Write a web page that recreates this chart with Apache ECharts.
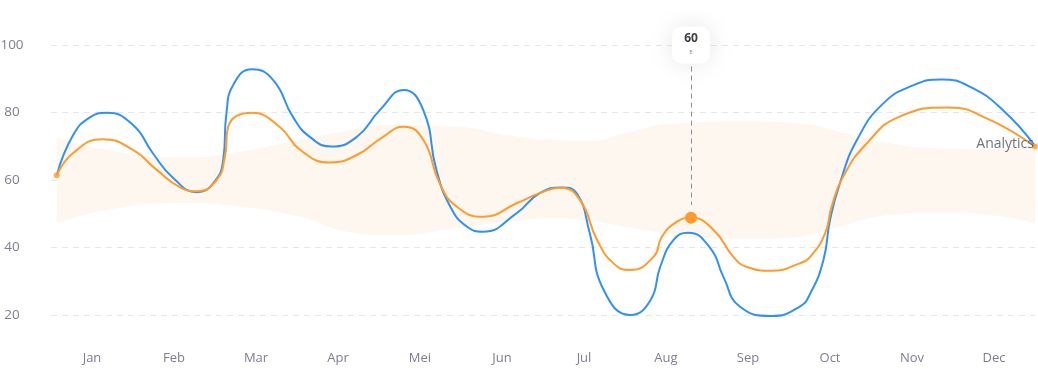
<!DOCTYPE html>
<html>
<head>
<meta charset="utf-8">
<script src="https://cdn.jsdelivr.net/npm/echarts@6/dist/echarts.min.js"></script>
<style>
html,body{margin:0;padding:0;background:#fff;}
#chart{width:1038px;height:369px;}
</style>
</head>
<body>
<div id="chart"></div>
<script>
// ---- data ----
var months = ['Jan','Feb','Mar','Apr','Mei','Jun','Jul','Aug','Sep','Oct','Nov','Dec'];
var yTicks = [20, 40, 60, 80, 100];

// positions along the year, in months (0 = start of Jan, 12 = end of Dec)
var blueX = [0.07,0.27,0.47,0.68,1.0,1.24,1.49,1.78,1.98,2.1,2.14,2.22,2.45,2.71,2.95,3.16,3.42,3.73,4.01,4.3,4.54,4.7,4.87,5.07,5.27,5.68,5.96,6.23,6.41,6.57,6.74,7.07,7.31,7.43,7.59,7.77,8.04,8.2,8.4,8.79,9.13,9.26,9.42,9.5,9.62,9.83,10.15,10.52,10.86,11.21,11.61,12.0];
var blueY = [61.4,73.3,78.5,79.9,76.3,68.0,60.6,56.4,59.1,65.9,79.9,88.1,92.8,89.6,78.7,72.7,69.9,72.8,80.7,86.7,80.7,63.0,52.1,46.2,44.7,50.2,56.1,57.8,56.1,44.3,27.4,20.0,24.4,34.3,42.2,44.4,39.8,31.3,22.5,19.7,22.5,26.4,36.3,48.1,59.0,71.9,82.7,88.1,89.8,87.6,80.7,70.1];

var orangeX = [0.07,0.27,0.63,1.0,1.29,1.57,1.78,2.02,2.12,2.16,2.45,2.79,3.04,3.4,3.73,4.05,4.3,4.54,4.74,4.95,5.27,5.68,5.96,6.21,6.45,6.66,6.86,7.06,7.35,7.45,7.63,7.805,8.08,8.32,8.48,8.79,9.13,9.26,9.44,9.52,9.66,9.95,10.35,10.94,11.45,12.0];
var orangeY = [61.4,68.0,72.1,68.9,63.0,57.9,56.7,60.0,66.8,75.7,79.9,75.7,68.9,65.2,67.4,72.8,75.8,71.9,59.0,52.1,49.1,53.1,56.1,57.7,54.1,42.2,35.3,33.3,37.3,43.2,47.6,48.8,45.2,37.3,34.3,33.1,35.3,37.3,44.2,52.1,61.0,70.9,78.8,81.5,77.8,69.9];

var bandX    = [0.07,0.68,1.57,2.3,3.04,3.52,4.13,4.95,5.56,6.09,6.57,6.98,7.59,8.0,8.4,8.8,9.13,9.62,10.23,10.84,11.45,12.0];
var bandLow  = [47.2,51.1,53.1,52.1,49.1,45.2,43.6,45.8,47.6,48.7,47.9,46.2,43.8,42.7,42.6,42.7,43.2,46.2,49.6,50.3,49.6,47.2];
var bandHigh = [72.7,68.9,66.7,68.4,71.9,74.2,76.3,75.8,73.3,71.9,71.6,73.8,76.8,77.2,77.3,77.2,76.8,74.3,70.9,69.4,69.1,69.9];

var highlightIndex = 31;       // point of orangeX/orangeY that is highlighted
var tipValue = '60';
var tipSub = 'E';
var tipY = 100;                 // value level of the tooltip box
var guideTop = 93.6, guideBottom = 52.6;
var seriesName = 'Analytics';

// ---- build ----
function zip(a, b) { return a.map(function (v, i) { return [v, b[i]]; }); }
var bandDiff = bandHigh.map(function (v, i) { return +(v - bandLow[i]).toFixed(2); });
var hx = orangeX[highlightIndex], hy = orangeY[highlightIndex];
var n = orangeX.length - 1;
var SM = 0.5;

var blue = '#3190f4', orange = '#ff9b2c';
var chart = echarts.init(document.getElementById('chart'), null, {renderer: 'canvas'});
chart.setOption({
  animation: false,
  backgroundColor: '#ffffff',
  grid: {left: 51, right: 3, top: 45, bottom: 54, containLabel: false, outerBoundsMode: 'none'},
  xAxis: [
    {
      type: 'category', data: months, boundaryGap: true,
      axisLine: {show: false}, axisTick: {show: false}, splitLine: {show: false},
      axisLabel: {margin: 37, color: '#7f7c93', fontSize: 13, fontFamily: 'Open Sans'}
    },
    {type: 'value', min: 0, max: 12, show: false}
  ],
  yAxis: {
    type: 'value', min: yTicks[0], max: yTicks[yTicks.length - 1], interval: 20,
    axisLine: {show: false}, axisTick: {show: false},
    axisLabel: {margin: 39, align: 'center', color: '#7f7c93', fontSize: 13.5, fontFamily: 'Open Sans'},
    splitLine: {show: true, lineStyle: {color: '#e6e6ec', width: 1, type: [6, 5]}}
  },
  series: [
    {
      type: 'line', xAxisIndex: 1, stack: 'band', data: zip(bandLow, bandX), encode: {x: 1, y: 0},
      smooth: SM, showSymbol: false, lineStyle: {opacity: 0}, silent: true, z: 1
    },
    {
      type: 'line', xAxisIndex: 1, stack: 'band', data: zip(bandDiff, bandX), encode: {x: 1, y: 0},
      smooth: SM, showSymbol: false, lineStyle: {opacity: 0}, silent: true, z: 1,
      areaStyle: {color: '#fdf7f0', opacity: 1}
    },
    {
      type: 'line', xAxisIndex: 1, data: zip(blueX, blueY), clip: false,
      smooth: SM, showSymbol: false, lineStyle: {color: blue, width: 2}, z: 3
    },
    {
      name: seriesName,
      type: 'line', xAxisIndex: 1, data: zip(orangeX, orangeY), clip: false,
      smooth: SM, showSymbol: false, lineStyle: {color: orange, width: 2}, z: 4,
      markLine: {
        silent: true, symbol: 'none', animation: false,
        lineStyle: {color: '#8e8e96', width: 1, type: [5, 4]},
        label: {show: false},
        data: [[{coord: [hx, guideTop]}, {coord: [hx, guideBottom]}]]
      },
      markPoint: {
        silent: true, animation: false,
        data: [
          {
            coord: [hx, hy], symbol: 'circle', symbolSize: 12,
            itemStyle: {color: orange}, label: {show: false}
          },
          {
            coord: [hx, tipY], symbol: 'roundRect', symbolSize: [38, 37],
            itemStyle: {color: '#ffffff', shadowBlur: 24, shadowColor: 'rgba(0,0,0,0.10)'},
            label: {
              show: true, position: 'inside',
              formatter: '{a|' + tipValue + '}\n{b|' + tipSub + '}',
              rich: {
                a: {fontSize: 12, fontWeight: 'bold', color: '#3d3d48', fontFamily: 'Open Sans', lineHeight: 14, align: 'center'},
                b: {fontSize: 6, color: '#8a8a94', fontFamily: 'Open Sans', lineHeight: 12, align: 'center'}
              }
            }
          }
        ]
      }
    },
    {
      type: 'scatter', xAxisIndex: 1, symbolSize: 6, z: 5,
      itemStyle: {color: orange},
      data: [
        [orangeX[0], orangeY[0]],
        {
          value: [orangeX[n], orangeY[n]],
          label: {
            show: true, position: 'left', distance: 0, offset: [2, -3],
            formatter: seriesName, color: '#4e4e58', fontSize: 14, fontFamily: 'Open Sans'
          }
        }
      ]
    }
  ]
});
</script>
</body>
</html>
